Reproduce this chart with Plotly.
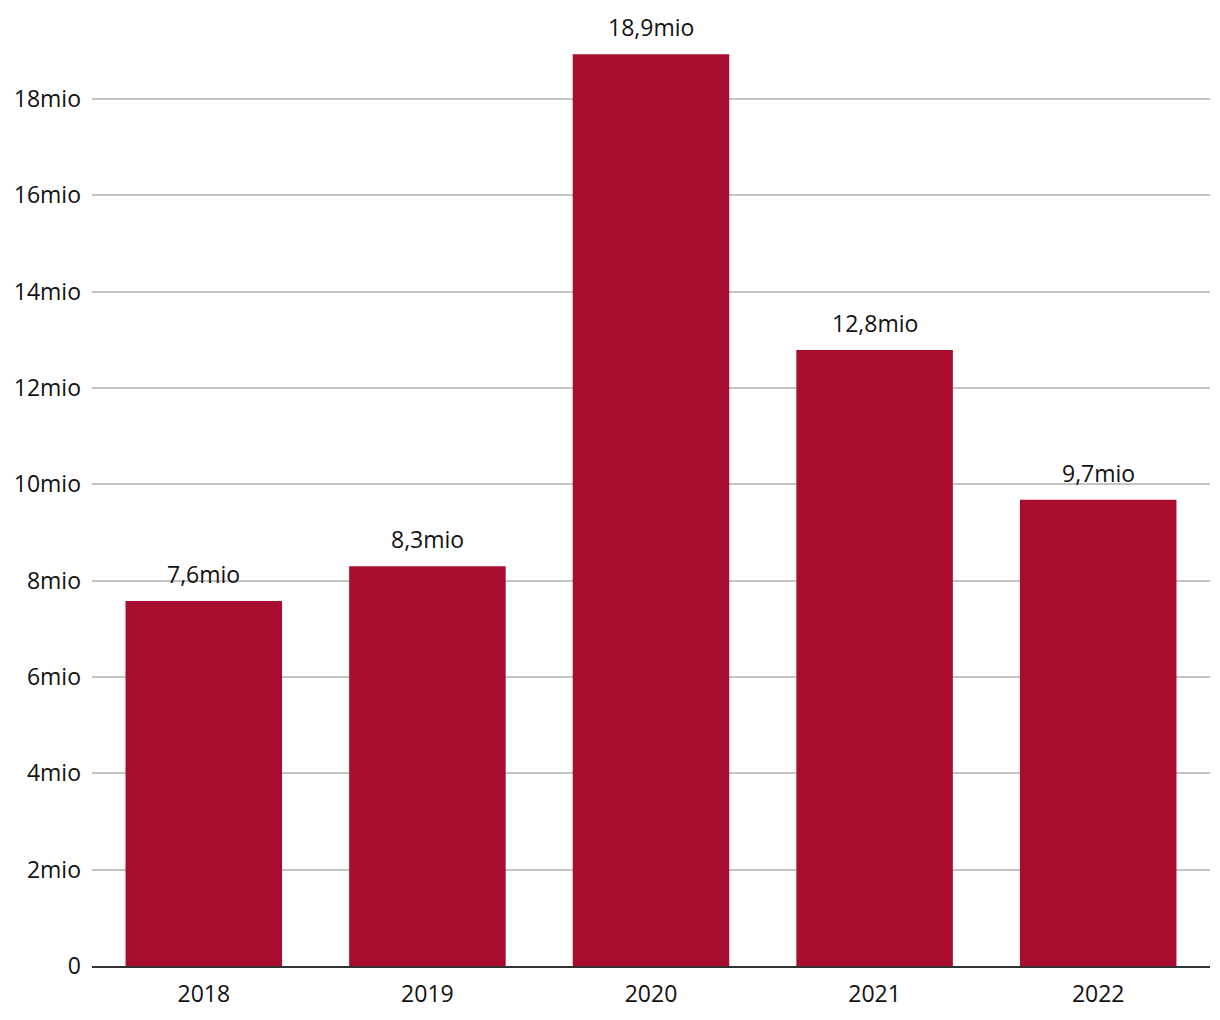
import plotly.graph_objects as go

years = ["2018", "2019", "2020", "2021", "2022"]
values = [7.58, 8.3, 18.93, 12.79, 9.68]
labels = ["7,6mio", "8,3mio", "18,9mio", "12,8mio", "9,7mio"]
tick_vals = [0, 2, 4, 6, 8, 10, 12, 14, 16, 18]
tick_text = ["0", "2mio", "4mio", "6mio", "8mio", "10mio", "12mio", "14mio", "16mio", "18mio"]

FONT = "Open Sans, Noto Sans, sans-serif"

fig = go.Figure()
fig.add_trace(go.Bar(x=years, y=values, marker=dict(color="#A80C2F", line=dict(width=0)),
                     hoverinfo="skip"))

for i, (v, lab) in enumerate(zip(values, labels)):
    fig.add_annotation(x=i, y=v, xref="x", yref="y", text=lab, showarrow=False,
                       yanchor="middle", yshift=27,
                       font=dict(family=FONT, size=23, color="#111111"))

fig.update_layout(
    width=1220, height=1020,
    margin=dict(l=84, r=18, t=2, b=62),
    paper_bgcolor="white", plot_bgcolor="white",
    bargap=0.3, showlegend=False,
    font=dict(family=FONT, size=23, color="#111111"),
    xaxis=dict(type="category", range=[-0.5, 4.5], showgrid=False, showline=True,
               linecolor="#333333", linewidth=2,
               ticks="", ticklabelstandoff=6, tickfont=dict(size=23)),
    yaxis=dict(range=[0, 19.85], tickvals=tick_vals, ticktext=tick_text,
               showgrid=True, gridcolor="#c4c4c4", gridwidth=1.5, zeroline=False,
               showline=False, ticks="", ticklabelstandoff=10, tickfont=dict(size=23)),
)

fig.write_html("out.html")
